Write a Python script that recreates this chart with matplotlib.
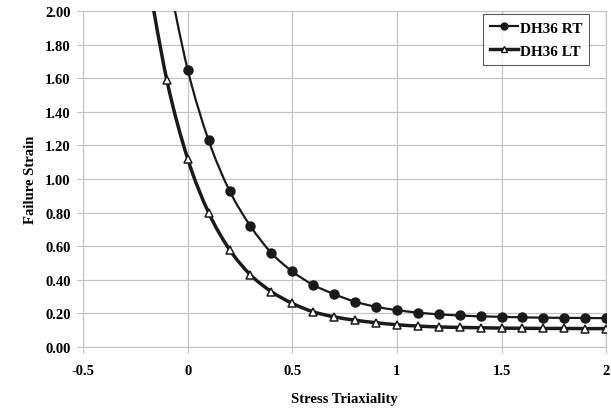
import matplotlib
matplotlib.use("Agg")
import matplotlib.pyplot as plt
from matplotlib.path import Path
from matplotlib.patches import PathPatch
from matplotlib.lines import Line2D
from matplotlib.ticker import FormatStrFormatter

plt.rcParams["font.family"] = ["Liberation Serif", "DejaVu Serif"]
plt.rcParams["font.weight"] = "bold"

# data (first point of each series lies above the plot and is clipped)
eta_rt = [-0.1, 0.0, 0.1, 0.2, 0.3, 0.4, 0.5, 0.6, 0.7, 0.8, 0.9, 1.0,
          1.1, 1.2, 1.3, 1.4, 1.5, 1.6, 1.7, 1.8, 1.9, 2.0]
eps_rt = [2.24, 1.65, 1.23, 0.93, 0.72, 0.56, 0.45, 0.37, 0.315, 0.27, 0.24, 0.22,
          0.205, 0.195, 0.188, 0.183, 0.18, 0.177, 0.175, 0.174, 0.173, 0.172]

eta_lt = [-0.2, -0.1, 0.0, 0.1, 0.2, 0.3, 0.4, 0.5, 0.6, 0.7, 0.8, 0.9, 1.0,
          1.1, 1.2, 1.3, 1.4, 1.5, 1.6, 1.7, 1.8, 1.9, 2.0]
eps_lt = [2.27, 1.59, 1.12, 0.80, 0.58, 0.43, 0.33, 0.26, 0.21, 0.18, 0.16, 0.145, 0.133,
          0.125, 0.12, 0.117, 0.115, 0.113, 0.112, 0.111, 0.111, 0.11, 0.11]

INK = "#1a1a1a"


def smooth_path(xs, ys):
    # Excel-style smoothed line: cubic Bezier segments through the points (Catmull-Rom)
    pts = list(zip(xs, ys))
    verts, codes = [pts[0]], [Path.MOVETO]
    n = len(pts)
    for i in range(n - 1):
        p0 = pts[max(i - 1, 0)]
        p1, p2 = pts[i], pts[i + 1]
        p3 = pts[min(i + 2, n - 1)]
        c1 = (p1[0] + (p2[0] - p0[0]) / 6, p1[1] + (p2[1] - p0[1]) / 6)
        c2 = (p2[0] - (p3[0] - p1[0]) / 6, p2[1] - (p3[1] - p1[1]) / 6)
        verts += [c1, c2, p2]
        codes += [Path.CURVE4] * 3
    return Path(verts, codes)


fig = plt.figure(figsize=(6.11, 4.10), dpi=100)
ax = fig.add_axes([0.136, 0.151, 0.856, 0.820])

ax.add_patch(PathPatch(smooth_path(eta_rt, eps_rt), fill=False, ec=INK, lw=1.6, zorder=3))
ax.add_patch(PathPatch(smooth_path(eta_lt, eps_lt), fill=False, ec=INK, lw=2.5, zorder=3))
ax.plot(eta_rt, eps_rt, ls="none", marker="o", ms=6.5, mfc=INK, mec=INK, zorder=4)
ax.plot(eta_lt, eps_lt, ls="none", marker="^", ms=5.5, mfc="white", mec=INK, mew=1.1, zorder=4)

ax.set_xlim(-0.5, 2.0)
ax.set_ylim(0, 2.0)
ax.set_xticks([-0.5, 0, 0.5, 1, 1.5, 2])
ax.set_xticklabels(["-0.5", "0", "0.5", "1", "1.5", "2"])
ax.set_yticks([i * 0.2 for i in range(11)])
ax.yaxis.set_major_formatter(FormatStrFormatter("%.2f"))
ax.grid(True, color="#c4c4c4", lw=0.9)
ax.set_axisbelow(True)
for s in ax.spines.values():
    s.set_color("#c4c4c4")
ax.tick_params(length=4, color="#c4c4c4", labelsize=10.5, pad=5)
ax.tick_params(axis="x", pad=8)

ax.set_xlabel("Stress Triaxiality", fontsize=10.5, fontweight="bold", labelpad=11)
ax.set_ylabel("Failure Strain", fontsize=10.5, fontweight="bold", labelpad=6)

handles = [
    Line2D([], [], color=INK, lw=1.6, marker="o", ms=5, mfc=INK, mec=INK),
    Line2D([], [], color=INK, lw=2.5, marker="^", ms=4.5, mfc="white", mec=INK),
]
leg = ax.legend(handles, ["DH36 RT", "DH36 LT"], loc="upper right", fontsize=11,
                frameon=True, fancybox=False, handlelength=1.8, handletextpad=0.15,
                borderpad=0.45, labelspacing=0.6, borderaxespad=0,
                bbox_to_anchor=(0.968, 0.99))
leg.get_frame().set_edgecolor("#333333")
leg.get_frame().set_linewidth(0.8)

fig.savefig("out.png", dpi=100)
